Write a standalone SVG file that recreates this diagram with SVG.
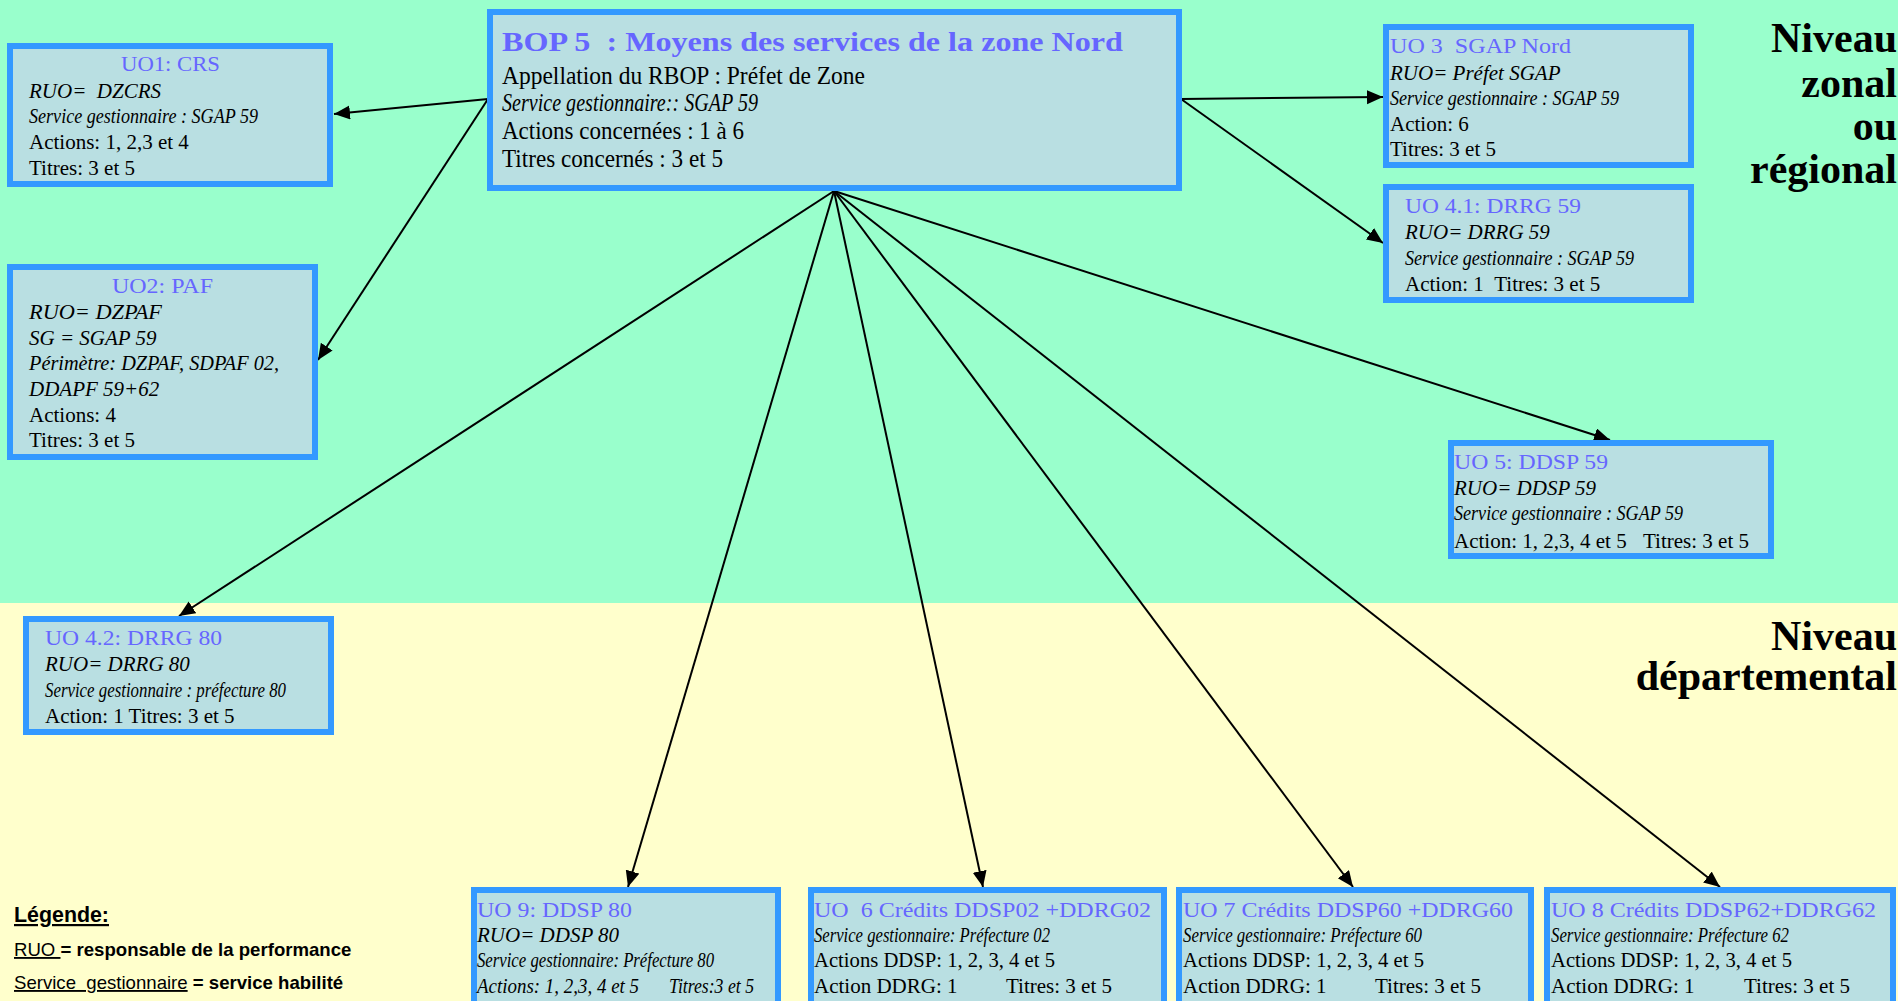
<svg xmlns="http://www.w3.org/2000/svg" width="1898" height="1001" viewBox="0 0 1898 1001">
<style>
.box{fill:#B9DFE2;stroke:#3399FF;stroke-width:6}
.t{font-family:"Liberation Serif","Times New Roman",serif;font-size:21px;fill:#000}
.bt{font-size:25.5px}
.i{font-style:italic}
.h{font-family:"Liberation Serif","Times New Roman",serif;font-size:22px;fill:#6666FF}
.lv{font-family:"Liberation Serif","Times New Roman",serif;font-size:42px;font-weight:bold;fill:#000;text-anchor:end}
.lg{font-family:"Liberation Sans",Arial,sans-serif;font-size:18.6px;fill:#000}
.lgt{font-size:22px}
.b{font-weight:bold}
.u{text-decoration:underline}
.c{stroke:#000;stroke-width:2;fill:none;marker-end:url(#ah)}
</style>
<defs>
<marker id="ah" markerUnits="userSpaceOnUse" markerWidth="17" markerHeight="15" refX="16" refY="7" orient="auto">
<path d="M0,0 L16,7 L0,14 z" fill="#000"/>
</marker>
</defs>
<rect x="0" y="0" width="1898" height="603" fill="#99FFCC"/>
<rect x="0" y="603" width="1898" height="398" fill="#FFFFCC"/>

<g id="levels">
<text class="lv" x="1897" y="52">Niveau</text>
<text class="lv" x="1897" y="97">zonal</text>
<text class="lv" x="1897" y="140">ou</text>
<text class="lv" x="1897" y="183">régional</text>
<text class="lv" x="1897" y="650">Niveau</text>
<text class="lv" x="1897" y="690">départemental</text>
</g>

<g id="connectors">
<line class="c" x1="488" y1="99" x2="334" y2="114"/>
<line class="c" x1="488" y1="99" x2="318" y2="360"/>
<line class="c" x1="1181" y1="99" x2="1383" y2="97"/>
<line class="c" x1="1181" y1="99" x2="1383" y2="243"/>
<line class="c" x1="834" y1="191" x2="179" y2="616"/>
<line class="c" x1="834" y1="191" x2="1610" y2="440"/>
<line class="c" x1="834" y1="191" x2="628" y2="887"/>
<line class="c" x1="834" y1="191" x2="983" y2="887"/>
<line class="c" x1="834" y1="191" x2="1353" y2="887"/>
<line class="c" x1="834" y1="191" x2="1720" y2="887"/>
</g>

<g id="bop5">
<rect class="box" x="490" y="12" width="689" height="176"/>
<text x="502" y="51" font-family="Liberation Serif,serif" font-size="28" font-weight="bold" fill="#6666FF" textLength="621" lengthAdjust="spacingAndGlyphs">BOP 5 &#160;: Moyens des services de la zone Nord</text>
<text class="t bt" x="502" y="84" textLength="363" lengthAdjust="spacingAndGlyphs">Appellation du RBOP : Préfet de Zone</text>
<text class="t bt i" x="502" y="111" textLength="256" lengthAdjust="spacingAndGlyphs">Service gestionnaire:: SGAP 59</text>
<text class="t bt" x="502" y="139" textLength="242" lengthAdjust="spacingAndGlyphs">Actions concernées : 1 à 6</text>
<text class="t bt" x="502" y="167" textLength="221" lengthAdjust="spacingAndGlyphs">Titres concernés : 3 et 5</text>
</g>

<g id="uo1">
<rect class="box" x="10" y="46" width="320" height="138"/>
<text class="h" x="121" y="71" textLength="99" lengthAdjust="spacingAndGlyphs">UO1: CRS</text>
<text class="t i" x="29" y="98">RUO= &#160;DZCRS</text>
<text class="t i" x="29" y="123" textLength="229" lengthAdjust="spacingAndGlyphs">Service gestionnaire : SGAP 59</text>
<text class="t" x="29" y="149">Actions: 1, 2,3 et 4</text>
<text class="t" x="29" y="175">Titres: 3 et 5</text>
</g>

<g id="uo2">
<rect class="box" x="10" y="267" width="305" height="190"/>
<text class="h" x="112" y="293" textLength="101" lengthAdjust="spacingAndGlyphs">UO2: PAF</text>
<text class="t i" x="29" y="319" textLength="133" lengthAdjust="spacingAndGlyphs">RUO= DZPAF</text>
<text class="t i" x="29" y="345">SG = SGAP 59</text>
<text class="t i" x="29" y="370" textLength="250" lengthAdjust="spacingAndGlyphs">Périmètre: DZPAF, SDPAF 02,</text>
<text class="t i" x="29" y="396">DDAPF 59+62</text>
<text class="t" x="29" y="422">Actions: 4</text>
<text class="t" x="29" y="447">Titres: 3 et 5</text>
</g>

<g id="uo3">
<rect class="box" x="1386" y="27" width="305" height="138"/>
<text class="h" x="1390" y="53" textLength="181" lengthAdjust="spacingAndGlyphs">UO 3 &#160;SGAP Nord</text>
<text class="t i" x="1390" y="80">RUO= Préfet SGAP</text>
<text class="t i" x="1390" y="105" textLength="229" lengthAdjust="spacingAndGlyphs">Service gestionnaire : SGAP 59</text>
<text class="t" x="1390" y="131">Action: 6</text>
<text class="t" x="1390" y="156">Titres: 3 et 5</text>
</g>

<g id="uo41">
<rect class="box" x="1386" y="187" width="305" height="113"/>
<text class="h" x="1405" y="213" textLength="176" lengthAdjust="spacingAndGlyphs">UO 4.1: DRRG 59</text>
<text class="t i" x="1405" y="239">RUO= DRRG 59</text>
<text class="t i" x="1405" y="265" textLength="229" lengthAdjust="spacingAndGlyphs">Service gestionnaire : SGAP 59</text>
<text class="t" x="1405" y="291">Action: 1 &#160;Titres: 3 et 5</text>
</g>

<g id="uo5">
<rect class="box" x="1451" y="443" width="320" height="113"/>
<text class="h" x="1454" y="469" textLength="154" lengthAdjust="spacingAndGlyphs">UO 5: DDSP 59</text>
<text class="t i" x="1454" y="495">RUO= DDSP 59</text>
<text class="t i" x="1454" y="520" textLength="229" lengthAdjust="spacingAndGlyphs">Service gestionnaire : SGAP 59</text>
<text class="t" x="1454" y="548">Action: 1, 2,3, 4 et 5<tspan x="1643">Titres: 3 et 5</tspan></text>
</g>

<g id="uo42">
<rect class="box" x="26" y="619" width="305" height="113"/>
<text class="h" x="45" y="645" textLength="177" lengthAdjust="spacingAndGlyphs">UO 4.2: DRRG 80</text>
<text class="t i" x="45" y="671">RUO= DRRG 80</text>
<text class="t i" x="45" y="697" textLength="241" lengthAdjust="spacingAndGlyphs">Service gestionnaire : préfecture 80</text>
<text class="t" x="45" y="723">Action: 1 Titres: 3 et 5</text>
</g>

<g id="uo9">
<rect class="box" x="474" y="890" width="304" height="140"/>
<text class="h" x="477" y="917" textLength="155" lengthAdjust="spacingAndGlyphs">UO 9: DDSP 80</text>
<text class="t i" x="477" y="942">RUO= DDSP 80</text>
<text class="t i" x="477" y="967" textLength="237" lengthAdjust="spacingAndGlyphs">Service gestionnaire: Préfecture 80</text>
<text class="t i" x="477" y="993" textLength="162" lengthAdjust="spacingAndGlyphs">Actions: 1, 2,3, 4 et 5</text>
<text class="t i" x="669" y="993" textLength="85" lengthAdjust="spacingAndGlyphs">Titres:3 et 5</text>
</g>

<g id="uo6">
<rect class="box" x="811" y="890" width="353" height="140"/>
<text class="h" x="814" y="917" textLength="337" lengthAdjust="spacingAndGlyphs">UO &#160;6 Crédits DDSP02 +DDRG02</text>
<text class="t i" x="814" y="942" textLength="236" lengthAdjust="spacingAndGlyphs">Service gestionnaire: Préfecture 02</text>
<text class="t" x="814" y="967" textLength="241" lengthAdjust="spacingAndGlyphs">Actions DDSP: 1, 2, 3, 4 et 5</text>
<text class="t" x="814" y="993">Action DDRG: 1</text>
<text class="t" x="1006" y="993">Titres: 3 et 5</text>
</g>

<g id="uo7">
<rect class="box" x="1179" y="890" width="352" height="140"/>
<text class="h" x="1183" y="917" textLength="330" lengthAdjust="spacingAndGlyphs">UO 7 Crédits DDSP60 +DDRG60</text>
<text class="t i" x="1183" y="942" textLength="239" lengthAdjust="spacingAndGlyphs">Service gestionnaire: Préfecture 60</text>
<text class="t" x="1183" y="967" textLength="241" lengthAdjust="spacingAndGlyphs">Actions DDSP: 1, 2, 3, 4 et 5</text>
<text class="t" x="1183" y="993">Action DDRG: 1</text>
<text class="t" x="1375" y="993">Titres: 3 et 5</text>
</g>

<g id="uo8">
<rect class="box" x="1547" y="890" width="346" height="140"/>
<text class="h" x="1551" y="917" textLength="325" lengthAdjust="spacingAndGlyphs">UO 8 Crédits DDSP62+DDRG62</text>
<text class="t i" x="1551" y="942" textLength="238" lengthAdjust="spacingAndGlyphs">Service gestionnaire: Préfecture 62</text>
<text class="t" x="1551" y="967" textLength="241" lengthAdjust="spacingAndGlyphs">Actions DDSP: 1, 2, 3, 4 et 5</text>
<text class="t" x="1551" y="993">Action DDRG: 1</text>
<text class="t" x="1744" y="993">Titres: 3 et 5</text>
</g>

<g id="legend">
<text class="lg lgt b u" x="14" y="922" textLength="95" lengthAdjust="spacingAndGlyphs">Légende:</text>
<text class="lg" x="14" y="956"><tspan class="u">RUO </tspan><tspan class="b">= responsable de la performance</tspan></text>
<text class="lg" x="14" y="989"><tspan class="u">Service &#160;gestionnaire</tspan><tspan class="b"> = service habilité</tspan></text>
</g>
</svg>
